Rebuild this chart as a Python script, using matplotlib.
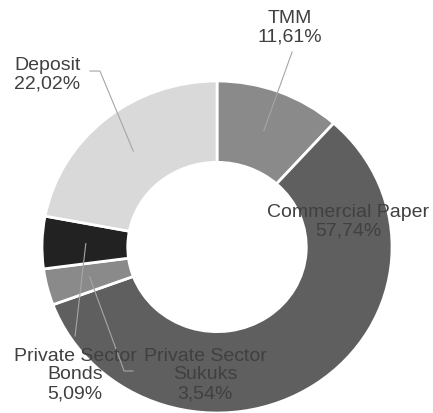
import matplotlib.pyplot as plt
import numpy as np

plt.rcParams['font.family'] = ['Liberation Sans', 'DejaVu Sans']

etiquetas = ["TMM", "Commercial Paper", "Private Sector\nSukuks", "Private Sector\nBonds", "Deposit"]
valores = [11.61, 57.74, 3.54, 5.09, 22.02]
colores = ["#8a8a8a", "#5f5f5f", "#8a8a8a", "#222222", "#d9d9d9"]

fig = plt.figure(figsize=(4.33, 4.14), dpi=100)
ax = fig.add_axes([0, 0, 1, 1])

ax.pie(valores, colors=colores, startangle=90, counterclock=False, radius=1,
       wedgeprops=dict(width=0.49, edgecolor="white", linewidth=2))
ax.set_aspect("auto")
ax.set_xlim(-1.24, 1.234)
ax.set_ylim(-1.0, 1.494)
ax.axis("off")

# posicion de cada etiqueta y puntos del conector (None = sin conector)
pos_texto = [(0.417, 1.325), (0.749, 0.157), (-0.069, -0.765), (-0.811, -0.765), (-0.971, 1.042)]
conectores = [
    [(0.429, 1.175)],
    None,
    [(-0.48, -0.747), (-0.531, -0.747)],
    [(-0.811, -0.536)],
    [(-0.726, 1.060), (-0.669, 1.060)],
]

total = sum(valores)
acum = 0
for nombre, v, (tx, ty), con in zip(etiquetas, valores, pos_texto, conectores):
    medio = (acum + v / 2) / total
    acum += v
    ang = np.radians(90 - 360 * medio)
    mx, my = 0.75 * np.cos(ang), 0.75 * np.sin(ang)
    if con is not None:
        xs = [p[0] for p in con] + [mx]
        ys = [p[1] for p in con] + [my]
        ax.plot(xs, ys, color="#a6a6a6", linewidth=0.8, zorder=3)
    texto = nombre + "\n" + f"{v:.2f}".replace(".", ",") + "%"
    ax.text(tx, ty, texto, ha="center", va="center", fontsize=14,
            color="#404040", linespacing=1.12, zorder=4)

plt.savefig("out.png", dpi=100)
